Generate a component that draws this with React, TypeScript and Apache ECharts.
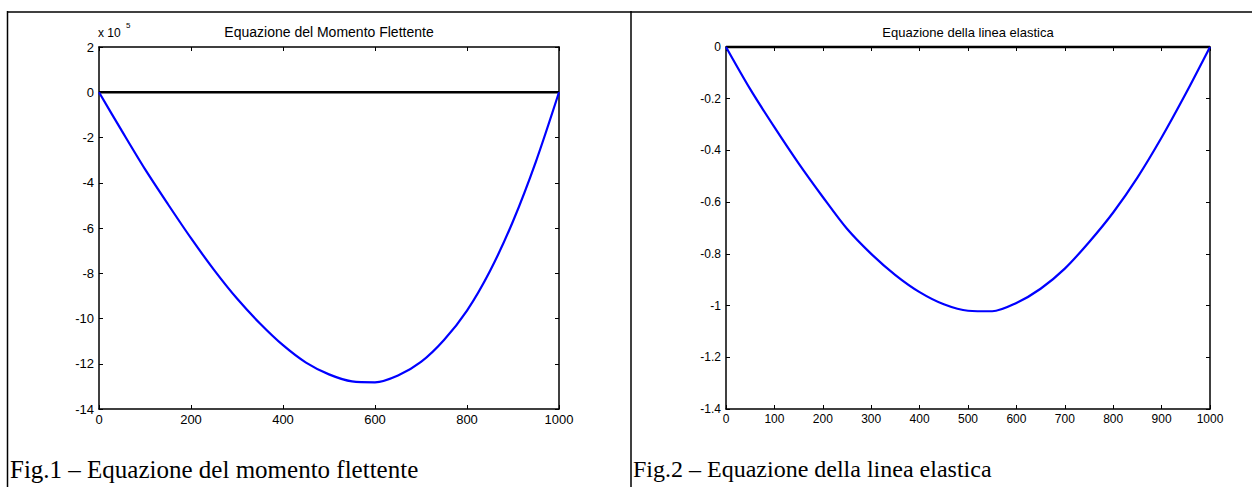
import React, { useEffect, useRef } from "react";
import * as echarts from "echarts";

// Fig.1 – bending moment (values in units of 10^5)
const momentX = [0, 50, 100, 150, 200, 250, 300, 350, 400, 450, 500, 550, 600, 650, 700, 750, 800, 850, 900, 950, 1000];
const momentY = [0, -1.72, -3.4, -4.95, -6.45, -7.85, -9.12, -10.22, -11.18, -11.95, -12.47, -12.78, -12.82, -12.52, -11.92, -10.95, -9.65, -7.9, -5.7, -3.05, 0];

// Fig.2 – elastic line
const elasticX = [0, 50, 100, 150, 200, 250, 300, 350, 400, 450, 500, 550, 600, 650, 700, 750, 800, 850, 900, 950, 1000];
const elasticY = [0, -0.163, -0.31, -0.45, -0.58, -0.703, -0.8, -0.882, -0.948, -0.995, -1.02, -1.022, -0.99, -0.935, -0.857, -0.755, -0.64, -0.505, -0.35, -0.18, 0];

const beamX = [0, 1000];
const beamY = [0, 0];

const title1 = "Equazione del Momento Flettente";
const title2 = "Equazione della linea elastica";
const caption1 = "Fig.1 – Equazione del momento flettente";
const caption2 = "Fig.2 – Equazione della linea elastica";

const SANS = "'Liberation Sans', Arial, sans-serif";
const SERIF = "'Liberation Serif', 'Times New Roman', serif";

function pairs(xs: number[], ys: number[]) {
  return xs.map((x, i) => [x, ys[i]]);
}

const fmt = (v: number) => String(Math.round(v * 10) / 10);

export default function App() {
  const ref = useRef<HTMLDivElement>(null);

  useEffect(() => {
    if (!ref.current) return;
    const chart = echarts.init(ref.current, undefined, { renderer: "svg" });

    const tick = { show: true, inside: true, length: 4, lineStyle: { color: "#000", width: 1 } };
    const line = { show: true, onZero: false, lineStyle: { color: "#000", width: 1.5 } };

    const xBase = (grid: number, interval: number, fs: number, pos: "bottom" | "top") => ({
      type: "value",
      gridIndex: grid,
      position: pos,
      min: 0,
      max: 1000,
      interval,
      axisLine: line,
      axisTick: tick,
      splitLine: { show: false },
      axisLabel: {
        show: pos === "bottom",
        color: "#000",
        fontFamily: SANS,
        fontSize: fs,
        margin: 4,
        formatter: fmt,
      },
    });
    const yBase = (grid: number, min: number, max: number, interval: number, fs: number, pos: "left" | "right") => ({
      type: "value",
      gridIndex: grid,
      position: pos,
      min,
      max,
      interval,
      axisLine: line,
      axisTick: tick,
      splitLine: { show: false },
      axisLabel: {
        show: pos === "left",
        color: "#000",
        fontFamily: SANS,
        fontSize: fs,
        margin: 5,
        formatter: fmt,
      },
    });

    chart.setOption({
      animation: false,
      backgroundColor: "#fff",
      grid: [
        { left: 99, top: 47, width: 460, height: 362 },
        { left: 726, top: 47, width: 484, height: 362 },
      ],
      xAxis: [
        xBase(0, 200, 13, "bottom"),
        xBase(0, 200, 13, "top"),
        xBase(1, 100, 12, "bottom"),
        xBase(1, 100, 12, "top"),
      ],
      yAxis: [
        yBase(0, -14, 2, 2, 13, "left"),
        yBase(0, -14, 2, 2, 13, "right"),
        yBase(1, -1.4, 0, 0.2, 12, "left"),
        yBase(1, -1.4, 0, 0.2, 12, "right"),
      ],
      series: [
        {
          type: "line",
          xAxisIndex: 0,
          yAxisIndex: 0,
          data: pairs(beamX, beamY),
          showSymbol: false,
          clip: false,
          lineStyle: { color: "#000", width: 2.5 },
        },
        {
          type: "line",
          xAxisIndex: 0,
          yAxisIndex: 0,
          data: pairs(momentX, momentY),
          showSymbol: false,
          smooth: 0.3,
          clip: false,
          lineStyle: { color: "#0000ff", width: 2.2 },
        },
        {
          type: "line",
          xAxisIndex: 2,
          yAxisIndex: 2,
          data: pairs(beamX, beamY),
          showSymbol: false,
          clip: false,
          lineStyle: { color: "#000", width: 2.5 },
        },
        {
          type: "line",
          xAxisIndex: 2,
          yAxisIndex: 2,
          data: pairs(elasticX, elasticY),
          showSymbol: false,
          smooth: 0.3,
          clip: false,
          lineStyle: { color: "#0000ff", width: 2.2 },
        },
      ],
      graphic: [
        // table borders
        { type: "line", shape: { x1: 7, y1: 12, x2: 1252, y2: 12 }, style: { stroke: "#000", lineWidth: 1.5 } },
        { type: "line", shape: { x1: 7.5, y1: 11, x2: 7.5, y2: 487 }, style: { stroke: "#000", lineWidth: 1.5 } },
        { type: "line", shape: { x1: 631, y1: 11, x2: 631, y2: 487 }, style: { stroke: "#000", lineWidth: 1.5 } },
        // titles
        {
          type: "text",
          x: 329,
          y: 32,
          style: { text: title1, fontFamily: SANS, fontSize: 14, fill: "#000", align: "center", verticalAlign: "middle" },
        },
        {
          type: "text",
          x: 968,
          y: 32,
          style: { text: title2, fontFamily: SANS, fontSize: 13, fill: "#000", align: "center", verticalAlign: "middle" },
        },
        // exponent
        {
          type: "text",
          x: 98,
          y: 33,
          style: { text: "x 10", fontFamily: SANS, fontSize: 12, fill: "#000", align: "left", verticalAlign: "middle" },
        },
        {
          type: "text",
          x: 126,
          y: 25,
          style: { text: "5", fontFamily: SANS, fontSize: 8, fill: "#000", align: "left", verticalAlign: "middle" },
        },
        // captions
        {
          type: "text",
          x: 10,
          y: 469,
          style: { text: caption1, fontFamily: SERIF, fontSize: 25, fill: "#000", align: "left", verticalAlign: "middle" },
        },
        {
          type: "text",
          x: 633,
          y: 469,
          style: { text: caption2, fontFamily: SERIF, fontSize: 24, fill: "#000", align: "left", verticalAlign: "middle" },
        },
      ],
    });

    return () => chart.dispose();
  }, []);

  return (
    <div
      ref={ref}
      style={{ position: "absolute", left: 0, top: 0, width: 1252, height: 487, background: "#fff" }}
    />
  );
}
